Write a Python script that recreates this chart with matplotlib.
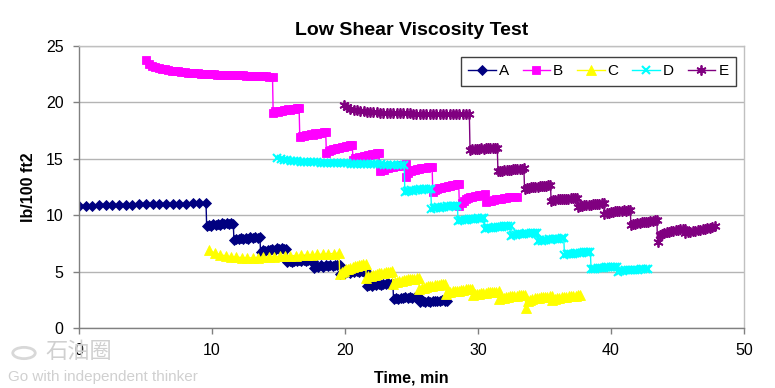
import numpy as np
import matplotlib
matplotlib.use("Agg")
import matplotlib.pyplot as plt
from matplotlib.patches import Circle

# ---------------- data (time in min, value in lb/100 ft2) ----------------
series_names = ["A", "B", "C", "D", "E"]

A_segments = [
    (0.0, 9.55, [10.80, 10.82, 10.84, 10.86, 10.88, 10.90, 10.91, 10.93, 10.94, 10.95,
                 10.97, 10.98, 10.99, 11.00, 11.01, 11.02, 11.03, 11.04, 11.05, 11.06]),
    (9.6, 11.6, [9.00, 9.15, 9.05, 9.20, 9.10, 9.25, 9.15, 9.28, 9.20, 9.30, 9.22, 9.32, 9.25]),
    (11.65, 13.6, [7.80, 7.92, 7.85, 7.98, 7.88, 8.00, 7.92, 8.05, 7.95, 8.06, 7.98, 8.05]),
    (13.65, 15.6, [6.75, 6.90, 6.82, 6.95, 6.88, 7.00, 6.92, 7.05, 6.96, 7.06, 7.00, 7.02]),
    (15.65, 17.6, [5.85, 5.95, 5.88, 5.98, 5.90, 6.00, 5.92, 6.02, 5.95, 6.02, 5.96, 5.98]),
    (17.65, 19.6, [5.35, 5.50, 5.40, 5.55, 5.45, 5.58, 5.48, 5.60, 5.50, 5.62, 5.55, 5.60]),
    (19.65, 21.6, [4.80, 4.92, 4.85, 4.98, 4.90, 5.02, 4.94, 5.05, 4.98, 5.08, 5.00, 5.05]),
    (21.65, 23.6, [3.70, 3.82, 3.75, 3.88, 3.80, 3.90, 3.83, 3.94, 3.86, 3.96, 3.88, 3.93]),
    (23.65, 25.6, [2.55, 2.65, 2.58, 2.70, 2.62, 2.72, 2.65, 2.75, 2.68, 2.75, 2.70, 2.72]),
    (25.65, 27.7, [2.30, 2.38, 2.32, 2.40, 2.34, 2.42, 2.36, 2.42, 2.38, 2.44, 2.40, 2.42]),
]

B_segments = [
    (5.0, 14.55, [23.80, 23.40, 23.25, 23.15, 23.05, 22.98, 22.92, 22.86, 22.82, 22.78,
                  22.74, 22.70, 22.67, 22.64, 22.62, 22.60, 22.58, 22.56, 22.54, 22.52,
                  22.50, 22.48, 22.47, 22.46, 22.45, 22.44, 22.43, 22.42, 22.41, 22.40,
                  22.39, 22.38, 22.36, 22.35, 22.34, 22.33, 22.32, 22.30, 22.28, 22.25]),
    (14.6, 16.55, [19.05, 19.20, 19.15, 19.28, 19.22, 19.35, 19.30, 19.40, 19.35, 19.45, 19.42, 19.50, 19.48]),
    (16.6, 18.55, [16.95, 17.05, 17.02, 17.12, 17.08, 17.20, 17.15, 17.25, 17.22, 17.32, 17.30, 17.38, 17.40]),
    (18.6, 20.55, [15.50, 15.70, 15.75, 15.85, 15.88, 15.95, 15.98, 16.02, 16.05, 16.10, 16.12, 16.18, 16.20]),
    (20.6, 22.55, [14.90, 15.05, 15.05, 15.15, 15.15, 15.25, 15.25, 15.32, 15.35, 15.40, 15.42, 15.48, 15.50]),
    (22.6, 24.55, [13.90, 14.05, 14.05, 14.15, 14.15, 14.25, 14.25, 14.32, 14.35, 14.40, 14.42, 14.48, 14.50]),
    (24.6, 26.55, [13.40, 13.75, 13.90, 14.00, 14.05, 14.10, 14.12, 14.15, 14.18, 14.22, 14.24, 14.28, 14.30]),
    (26.6, 28.55, [12.10, 12.25, 12.30, 12.40, 12.42, 12.50, 12.52, 12.58, 12.62, 12.68, 12.70, 12.75, 12.80]),
    (28.6, 30.55, [10.85, 11.10, 11.30, 11.42, 11.52, 11.60, 11.65, 11.70, 11.74, 11.78, 11.80, 11.83, 11.85]),
    (30.6, 32.9, [11.20, 11.30, 11.30, 11.38, 11.40, 11.45, 11.48, 11.52, 11.55, 11.58, 11.60, 11.63, 11.65]),
]

C_segments = [
    (9.8, 19.55, [6.90, 6.65, 6.50, 6.40, 6.32, 6.28, 6.25, 6.22, 6.22, 6.25, 6.28, 6.30, 6.32,
                  6.35, 6.38, 6.40, 6.42, 6.45, 6.48, 6.50, 6.52, 6.55, 6.58, 6.60, 6.62]),
    (19.6, 21.55, [4.80, 4.98, 5.08, 5.20, 5.25, 5.35, 5.38, 5.48, 5.50, 5.58, 5.60, 5.66, 5.70]),
    (21.6, 23.55, [4.45, 4.60, 4.62, 4.72, 4.74, 4.82, 4.84, 4.90, 4.92, 4.96, 4.98, 5.00, 5.02]),
    (23.6, 25.55, [3.90, 4.05, 4.05, 4.15, 4.15, 4.22, 4.24, 4.30, 4.30, 4.35, 4.36, 4.40, 4.42]),
    (25.6, 27.55, [3.45, 3.58, 3.58, 3.66, 3.68, 3.74, 3.75, 3.80, 3.80, 3.85, 3.86, 3.88, 3.90]),
    (27.6, 29.55, [3.05, 3.15, 3.16, 3.24, 3.25, 3.30, 3.32, 3.36, 3.38, 3.42, 3.43, 3.46, 3.48]),
    (29.6, 31.55, [2.90, 2.98, 3.00, 3.05, 3.06, 3.10, 3.12, 3.15, 3.16, 3.18, 3.20, 3.22, 3.24]),
    (31.6, 33.55, [2.60, 2.68, 2.70, 2.76, 2.78, 2.82, 2.84, 2.87, 2.88, 2.90, 2.91, 2.92, 2.94]),
    (33.6, 35.55, [1.80, 2.35, 2.50, 2.58, 2.62, 2.66, 2.70, 2.72, 2.74, 2.76, 2.78, 2.80, 2.82]),
    (35.6, 37.7, [2.45, 2.58, 2.62, 2.68, 2.72, 2.76, 2.78, 2.82, 2.84, 2.86, 2.88, 2.90, 2.92]),
]

D_segments = [
    (14.9, 24.45, [15.05, 14.95, 14.88, 14.85, 14.82, 14.80, 14.78, 14.76, 14.74, 14.72,
                   14.70, 14.69, 14.68, 14.67, 14.66, 14.65, 14.64, 14.63, 14.62, 14.61,
                   14.60, 14.59, 14.58, 14.57, 14.56, 14.55, 14.54, 14.53, 14.52, 14.51,
                   14.50, 14.50, 14.49, 14.48, 14.48, 14.47, 14.46, 14.46, 14.45]),
    (24.5, 26.45, [12.05, 12.15, 12.12, 12.20, 12.18, 12.25, 12.22, 12.28, 12.26, 12.32, 12.30, 12.34, 12.35]),
    (26.5, 28.45, [10.55, 10.65, 10.62, 10.70, 10.68, 10.74, 10.72, 10.78, 10.76, 10.82, 10.80, 10.84, 10.85]),
    (28.5, 30.45, [9.48, 9.55, 9.54, 9.60, 9.58, 9.64, 9.62, 9.68, 9.66, 9.72, 9.70, 9.74, 9.75]),
    (30.5, 32.45, [8.80, 8.86, 8.85, 8.90, 8.90, 8.94, 8.94, 8.98, 8.97, 9.00, 9.00, 9.03, 9.05]),
    (32.5, 34.45, [8.18, 8.25, 8.24, 8.30, 8.29, 8.34, 8.33, 8.38, 8.37, 8.41, 8.40, 8.44, 8.45]),
    (34.5, 36.45, [7.70, 7.76, 7.75, 7.80, 7.80, 7.85, 7.84, 7.88, 7.88, 7.92, 7.91, 7.94, 7.95]),
    (36.5, 38.45, [6.50, 6.56, 6.55, 6.60, 6.60, 6.65, 6.64, 6.68, 6.68, 6.72, 6.71, 6.74, 6.75]),
    (38.5, 40.45, [5.20, 5.26, 5.25, 5.30, 5.30, 5.35, 5.34, 5.38, 5.38, 5.42, 5.41, 5.44, 5.45]),
    (40.5, 42.8, [5.00, 5.06, 5.05, 5.10, 5.10, 5.15, 5.14, 5.18, 5.18, 5.22, 5.21, 5.24, 5.25]),
]

E_segments = [
    (19.9, 29.35, [19.77, 19.55, 19.42, 19.35, 19.30, 19.26, 19.22, 19.19, 19.16, 19.14,
                   19.12, 19.10, 19.09, 19.08, 19.07, 19.06, 19.05, 19.04, 19.03, 19.02,
                   19.02, 19.01, 19.00, 19.00, 18.99, 18.99, 18.98, 18.98, 18.97, 18.97,
                   18.96, 18.96, 18.95, 18.95, 18.95, 18.94, 18.94, 18.94, 18.93]),
    (29.4, 31.45, [15.78, 15.85, 15.84, 15.88, 15.88, 15.92, 15.91, 15.95, 15.94, 15.97, 15.97, 15.99, 16.00]),
    (31.5, 33.45, [13.88, 13.95, 13.94, 14.00, 13.99, 14.04, 14.04, 14.08, 14.08, 14.12, 14.11, 14.14, 14.15]),
    (33.5, 35.45, [12.35, 12.42, 12.42, 12.48, 12.48, 12.54, 12.53, 12.58, 12.58, 12.62, 12.61, 12.64, 12.65]),
    (35.5, 37.45, [11.28, 11.35, 11.34, 11.40, 11.40, 11.45, 11.44, 11.48, 11.48, 11.52, 11.52, 11.54, 11.55]),
    (37.5, 39.45, [10.75, 10.82, 10.82, 10.88, 10.88, 10.94, 10.93, 10.98, 10.98, 11.02, 11.01, 11.04, 11.05]),
    (39.5, 41.45, [10.15, 10.22, 10.22, 10.28, 10.28, 10.34, 10.33, 10.38, 10.38, 10.42, 10.41, 10.44, 10.45]),
    (41.5, 43.45, [9.12, 9.22, 9.24, 9.30, 9.32, 9.38, 9.38, 9.44, 9.44, 9.50, 9.50, 9.54, 9.55]),
    (43.5, 45.55, [7.60, 8.25, 8.35, 8.42, 8.48, 8.55, 8.58, 8.64, 8.66, 8.72, 8.74, 8.78, 8.80]),
    (45.6, 47.8, [8.40, 8.48, 8.50, 8.58, 8.60, 8.68, 8.70, 8.78, 8.80, 8.88, 8.90, 8.96, 9.00]),
]

x_ticks = [0, 10, 20, 30, 40, 50]
y_ticks = [0, 5, 10, 15, 20, 25]


def expand(segs):
    t, v = [], []
    for t0, t1, vals in segs:
        t.extend(np.linspace(t0, t1, len(vals)))
        v.extend(vals)
    return np.array(t), np.array(v)


plt.rcParams['font.family'] = ['Liberation Sans', 'DejaVu Sans']

fig = plt.figure(figsize=(7.75, 3.88), dpi=100)
ax = fig.add_axes([79 / 775, 1 - 328 / 388, (744 - 79) / 775, (328 - 46) / 388])

styles = {
    "A": dict(color='#000080', marker='D', ms=5.0, mec='#000080', mfc='#000080', mew=0.6),
    "B": dict(color='#FF00FF', marker='s', ms=6.0, mec='#FF00FF', mfc='#FF00FF', mew=0.6),
    "C": dict(color='#FFFF00', marker='^', ms=6.8, mec='#FFFF00', mfc='#FFFF00', mew=0.6),
    "D": dict(color='#00FFFF', marker='x', ms=6.2, mec='#00FFFF', mew=1.5),
    "E": dict(color='#800080', marker=(6, 2, 0), ms=7.2, mec='#800080', mew=1.3),
}
all_segments = {"A": A_segments, "B": B_segments, "C": C_segments,
                "D": D_segments, "E": E_segments}

for name in series_names:
    t, v = expand(all_segments[name])
    ax.plot(t, v, lw=1.0, label=name, **styles[name])

ax.set_xlim(0, 50)
ax.set_ylim(0, 25)
ax.set_xticks(x_ticks)
ax.set_yticks(y_ticks)
ax.yaxis.grid(True, color='#b4b4b4', lw=1.0)
ax.set_axisbelow(True)
for side in ['top', 'right']:
    ax.spines[side].set_color('#c0c0c0')
    ax.spines[side].set_linewidth(1.0)
for side in ['left', 'bottom']:
    ax.spines[side].set_color('#808080')
    ax.spines[side].set_linewidth(1.0)
ax.tick_params(axis='both', direction='out', length=4, width=1, color='#808080',
               labelsize=11.5, labelcolor='black')
ax.tick_params(axis='x', pad=7)
ax.tick_params(axis='y', pad=7)

ax.set_title("Low Shear Viscosity Test", fontsize=14, fontweight='bold', pad=8)
ax.set_xlabel("Time, min", fontsize=11.5, fontweight='bold', labelpad=9)
ax.set_ylabel("lb/100 ft2", fontsize=11.5, fontweight='bold', labelpad=7)

leg = ax.legend(loc='upper right', bbox_to_anchor=(0.988, 0.962), ncol=5, fontsize=11,
                frameon=True, fancybox=False, edgecolor='#404040', framealpha=1,
                handlelength=1.8, columnspacing=0.9, handletextpad=0.2,
                borderpad=0.5, borderaxespad=0)
leg.get_frame().set_linewidth(1.0)

# watermark
fig.patches.append(Circle((24 / 775, 1 - 353 / 388), 0.0145, transform=fig.transFigure,
                          facecolor='none', edgecolor='#d8d8d8', lw=2))
fig.text(45 / 775, 1 - 352 / 388, "石油圈", fontsize=16, color='#d0d0d0', va='center',
         ha='left', family=['Noto Sans CJK SC', 'DejaVu Sans'])
fig.text(8 / 775, 1 - 377 / 388, "Go with independent thinker", fontsize=11,
         color='#d0d0d0', va='center', ha='left')

fig.savefig("out.png", dpi=100)
